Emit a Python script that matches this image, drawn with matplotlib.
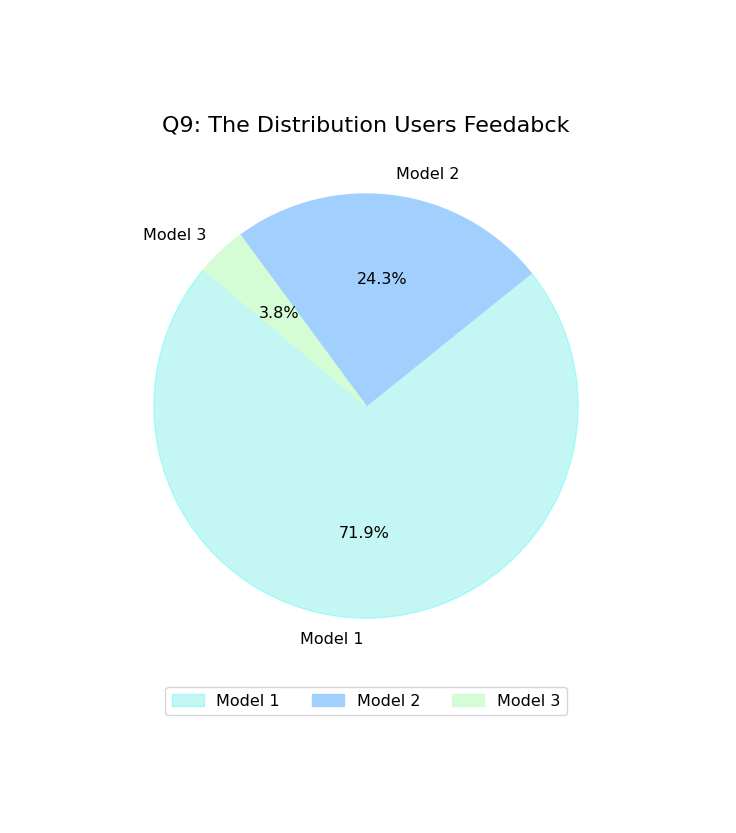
import matplotlib.pyplot as plt

labels = ["Model 1", "Model 2", "Model 3"]
counts = [133, 45, 7]
colors = ["#c4f7f4", "#a2d0fe", "#d5fdd5"]
edges = ["#a0fafa", "#a2d0fe", "#d5fdd5"]

fig = plt.figure(figsize=(7.36, 8.33), dpi=100)
ax = fig.add_axes([101/736, 162/833, 530/736, 530/833])

wedges, texts, autotexts = ax.pie(counts, labels=labels, colors=colors,
                                  autopct="%1.1f%%", startangle=140,
                                  textprops={"fontsize": 11.5})
for w, e in zip(wedges, edges):
    w.set_edgecolor(e)
    w.set_linewidth(1)

ax.set_title("Q9: The Distribution Users Feedabck", fontsize=16, pad=7)
fig.legend(wedges, labels, loc="center", ncol=3, fontsize=11.5,
           bbox_to_anchor=(366/736, 1 - 701/833))

fig.savefig("out.png", dpi=100)
